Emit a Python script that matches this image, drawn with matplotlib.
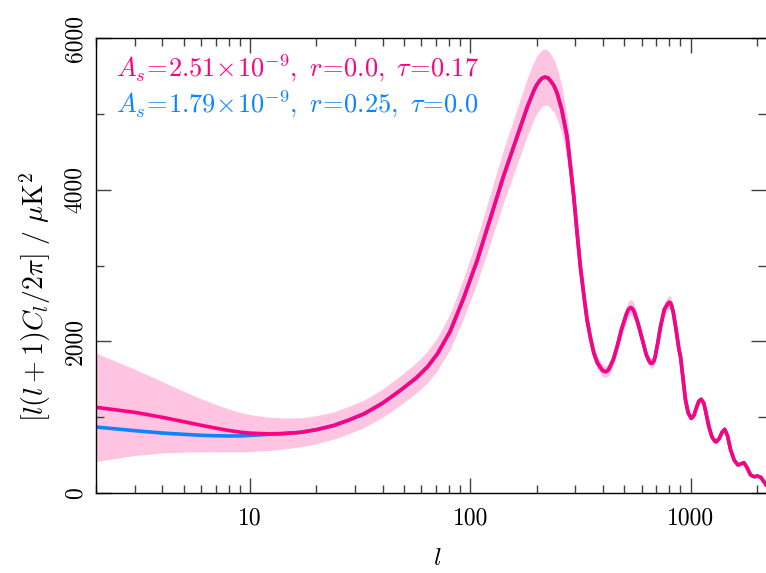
import numpy as np
import matplotlib.pyplot as plt

# valores
ell = [2, 3, 4, 5, 6, 7, 8, 9, 10, 12, 14, 17, 20, 24, 28, 33, 40, 48, 57, 64,
       71, 81, 93, 107, 123, 142, 155, 169, 182, 194, 200, 207, 213, 219, 226,
       232, 240, 248, 260, 275, 285, 295, 305, 316, 328, 339, 352, 364, 378,
       395, 403, 411, 420, 428, 446, 464, 485, 510, 522, 534, 545, 555, 578,
       603, 630, 650, 660, 669, 680, 690, 710, 731, 760, 790, 800, 811, 822,
       835, 860, 885, 901, 925, 948, 975, 1006, 1035, 1065, 1090, 1118, 1150,
       1180, 1211, 1250, 1290, 1312, 1350, 1390, 1428, 1470, 1520, 1580, 1641,
       1700, 1747, 1800, 1874, 1940, 2010, 2085, 2150, 2200]
dl_tau = [1130, 1064, 998, 941, 893, 855, 825, 803, 790, 780, 783, 800, 835,
          890, 960, 1045, 1185, 1350, 1520, 1665, 1836, 2130, 2560, 3050,
          3610, 4190, 4510, 4830, 5100, 5300, 5380, 5440, 5475, 5485, 5470,
          5430, 5370, 5270, 5060, 4700, 4300, 3907, 3450, 2984, 2600, 2281,
          2030, 1842, 1715, 1630, 1608, 1600, 1612, 1645, 1760, 1929, 2150,
          2350, 2420, 2445, 2430, 2390, 2230, 2030, 1820, 1735, 1712, 1710,
          1735, 1790, 1980, 2200, 2420, 2500, 2515, 2505, 2460, 2380, 2150,
          1900, 1790, 1500, 1230, 1060, 985, 1020, 1130, 1210, 1235, 1180,
          1030, 875, 740, 680, 677, 720, 800, 840, 760, 567, 430, 369, 385,
          400, 340, 237, 215, 224, 207, 150, 110]

# modelo con r=0.25: solo difiere a l bajo
ell_low = [2, 3, 4, 5, 6, 7, 8, 9, 10, 12, 14]
dl_r_low = [870, 822, 791, 774, 761, 755, 752, 753, 760, 772, 783]

label_tau = r'$A_s\!=\!2.51\!\times\!10^{-9},\ r\!=\!0.0,\ \tau\!=\!0.17$'
label_r = r'$A_s\!=\!1.79\!\times\!10^{-9},\ r\!=\!0.25,\ \tau\!=\!0.0$'

clr_tau = '#ff0080'
clr_r = '#0a85ff'
clr_band = '#ffc4e1'

plt.rcParams['font.family'] = 'serif'
plt.rcParams['font.serif'] = ['cmr10', 'DejaVu Serif']
plt.rcParams['mathtext.fontset'] = 'cm'

x = np.array(ell, dtype=float)
y = np.array(dl_tau, dtype=float)
# varianza cosmica
err = y * np.sqrt(2.0 / (2.0 * x + 1.0))

n_low = len(ell_low)
ell_r = ell_low + ell[n_low:]
dl_r = dl_r_low + dl_tau[n_low:]

fig = plt.figure(figsize=(7.66, 5.73), dpi=100)
ax = fig.add_axes([96 / 766, 1 - 493 / 573, 670 / 766, 455 / 573])

ax.fill_between(x, y - err, y + err, color=clr_band, linewidth=0)
ax.plot(ell_r, dl_r, color=clr_r, linewidth=2.6, solid_joinstyle='round')
ax.plot(x, y, color=clr_tau, linewidth=2.6, solid_joinstyle='round')

ax.set_xscale('log')
ax.set_xlim(2, 2200)
ax.set_ylim(0, 6000)

# Eje X
ax.set_xticks([10, 100, 1000])
ax.set_xticklabels(['10', '100', '1000'], fontsize=17)
fig.text(437 / 766, 1 - 559 / 573, r'$l$', ha='center', va='center',
         fontsize=18)

# Eje Y
ax.set_yticks([0, 2000, 4000, 6000])
ax.set_yticks([1000, 3000, 5000], minor=True)
ax.set_yticklabels(['0', '2000', '4000', '6000'], fontsize=17,
                   rotation=90, va='center')
fig.text(35 / 766, 1 - 297 / 573, r'$[l(l+1)C_l/2\pi]\ /\ \mu{\rm K}^2$',
         rotation=90, ha='center', va='center', fontsize=20)

ax.tick_params(which='both', direction='in', top=True, right=True,
               color='0.25', width=1)
ax.tick_params(which='major', length=11)
ax.tick_params(which='minor', length=6)
ax.tick_params(axis='x', which='major', pad=10)
ax.tick_params(axis='y', which='major', pad=7)
ax.spines['right'].set_visible(False)
for s in ['left', 'top', 'bottom']:
    ax.spines[s].set_linewidth(1.0)

# Leyenda en texto
ax.text(0.03, 0.914, label_tau, color=clr_tau, fontsize=19,
        transform=ax.transAxes, va='baseline')
ax.text(0.03, 0.836, label_r, color=clr_r, fontsize=19,
        transform=ax.transAxes, va='baseline')

plt.savefig('out.png', dpi=100)
